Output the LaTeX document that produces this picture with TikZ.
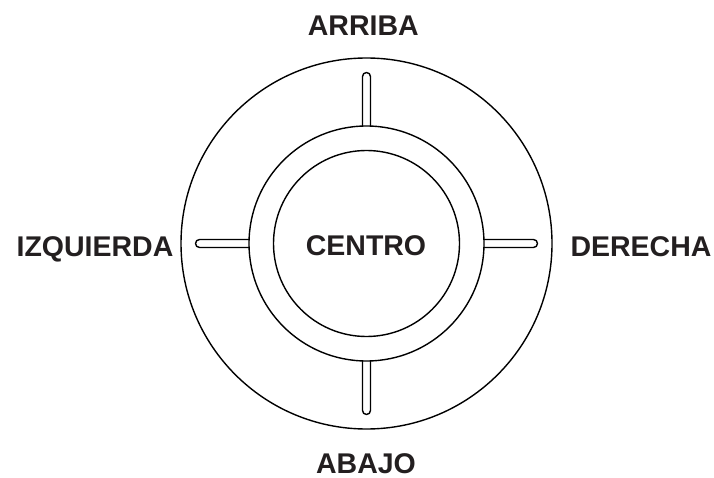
\documentclass[tikz,border=0pt]{standalone}
\usepackage{fontspec}
\setmainfont{Liberation Sans}
\definecolor{txt}{HTML}{231F20}
\begin{document}
\begin{tikzpicture}[x=1pt,y=1pt,
  ring/.style={circle,draw=black,line width=1.4pt,inner sep=0pt},
  lbl/.style={anchor=base,inner sep=0pt,text depth=0pt,text=txt,font=\fontsize{28.5}{30}\selectfont\bfseries},
  slot/.style={draw=black,line width=1.4pt,line join=round}]
\useasboundingbox (0,0) rectangle (714,477);
\coordinate (C) at (366.5,233.5);
\node[ring,minimum size=371pt] (outer) at (C) {};
\node[ring,minimum size=235pt] (mid) at (C) {};
\node[ring,minimum size=186pt] (inner) at (C) {};
\foreach \a in {0,90,180,270}{
  \begin{scope}[shift={(C)},rotate=\a]
    \draw[slot] (-4,117.4) -- (-4,167) arc[start angle=180,end angle=0,radius=4] -- (4,117.4);
  \end{scope}
}
\node[lbl] (arriba) at (363.3,441) {ARRIBA};
\node[lbl] (izq) at (95,221) {IZQUIERDA};
\node[lbl] (centro) at (366,222) {CENTRO};
\node[lbl] (der) at (641,221) {DERECHA};
\node[lbl] (abajo) at (366,4) {ABAJO};
\end{tikzpicture}
\end{document}
